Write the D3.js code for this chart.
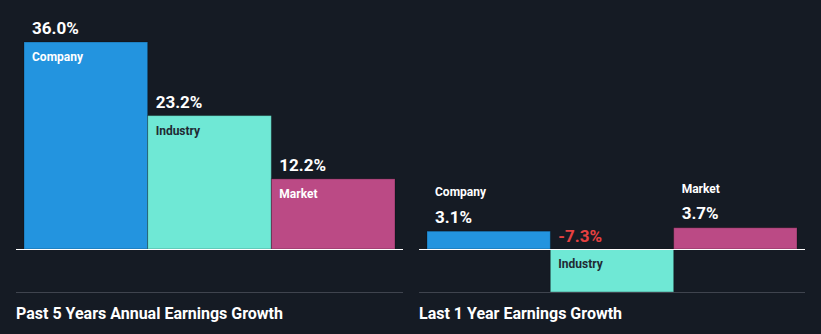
<!DOCTYPE html>
<html><head><meta charset="utf-8">
<script src="https://cdn.jsdelivr.net/npm/d3@7"></script>
<style>
html,body{margin:0;padding:0;background:#151b24;}
svg{display:block;font-family:Roboto,"Noto Sans",sans-serif;}
</style></head>
<body><svg id="c" width="821" height="334"></svg>
<script>
const categories = ["Company", "Industry", "Market"];
const past5Values = [36.0, 23.2, 12.2];
const last1Values = [3.1, -7.3, 3.7];
const panelTitles = ["Past 5 Years Annual Earnings Growth", "Last 1 Year Earnings Growth"];
const colors = ["#2394df", "#6fe8d5", "#bb4a85"];
const labelColors = ["#ffffff", "#1f2a33", "#ffffff"];

const svg = d3.select("#c");
const baseY = 249;
const y = d3.scaleLinear().domain([0, 36]).range([baseY, 42]);

function panel(x0, x1, lineX0, lineX1, values, title, mode) {
  const g = svg.append("g");
  const x = d3.scaleBand().domain(categories).range([x0, x1]).padding(0);
  const fmt = v => (v < 0 ? "-" : "") + d3.format(".1f")(Math.abs(v)) + "%";
  categories.forEach((c, i) => {
    const v = values[i];
    const top = y(Math.max(v, 0)), bot = y(Math.min(v, 0)) + (v < 0 ? 1 : 0);
    g.append("rect").attr("x", x(c)).attr("y", top)
      .attr("width", x.bandwidth()).attr("height", bot - top)
      .attr("fill", colors[i]).attr("stroke", "rgba(0,0,0,0.25)").attr("stroke-width", 1);
    const tx = x(c) + 8;
    if (mode === "inside" || v < 0) {
      const valueY = v < 0 ? baseY - 13 : top - 14;
      g.append("text").attr("x", tx).attr("y", valueY).attr("dy", "0.35em")
        .attr("font-size", 17).attr("font-weight", 700)
        .attr("fill", v < 0 ? "#e64141" : "#ffffff").text(fmt(v));
      g.append("text").attr("x", tx).attr("y", (v < 0 ? baseY : top) + 15).attr("dy", "0.35em")
        .attr("font-size", 12).attr("font-weight", 700)
        .attr("fill", labelColors[i]).text(c);
    } else {
      g.append("text").attr("x", tx).attr("y", top - 14.5).attr("dy", "0.35em")
        .attr("font-size", 17).attr("font-weight", 700)
        .attr("fill", "#ffffff").text(fmt(v));
      g.append("text").attr("x", tx).attr("y", top - 39).attr("dy", "0.35em")
        .attr("font-size", 12).attr("font-weight", 700)
        .attr("fill", "#ffffff").text(c);
    }
  });
  g.append("line").attr("x1", lineX0).attr("x2", lineX1).attr("y1", baseY + 0.5).attr("y2", baseY + 0.5)
    .attr("stroke", "#ffffff").attr("stroke-width", 1);
  g.append("line").attr("x1", lineX0).attr("x2", lineX1).attr("y1", 292.5).attr("y2", 292.5)
    .attr("stroke", "#3f444e").attr("stroke-width", 1);
  g.append("text").attr("x", lineX0).attr("y", 313).attr("dy", "0.35em")
    .attr("font-size", 16).attr("font-weight", 700).attr("fill", "#ffffff").text(title);
}

panel(24, 395, 16, 403, past5Values, panelTitles[0], "inside");
panel(427, 797, 419, 805, last1Values, panelTitles[1], "above");
</script></body></html>
